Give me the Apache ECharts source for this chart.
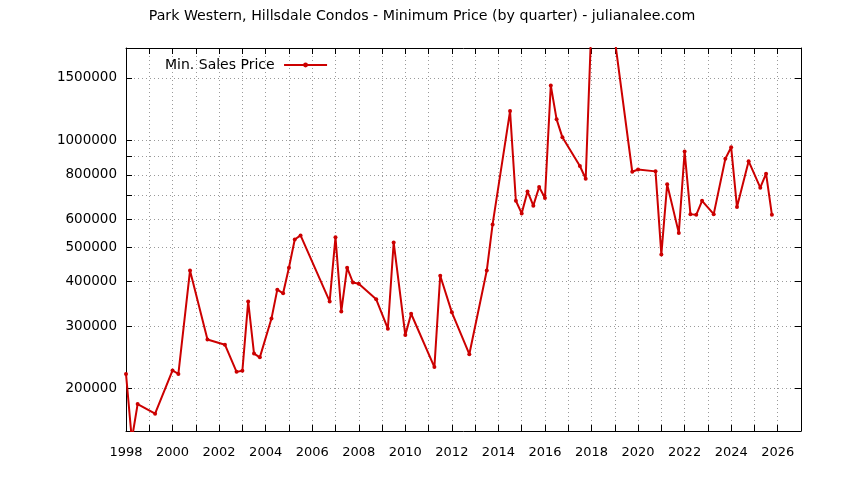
<!DOCTYPE html>
<html>
<head>
<meta charset="utf-8">
<script src="https://cdn.jsdelivr.net/npm/echarts@6/dist/echarts.min.js"></script>
<style>
html,body{margin:0;padding:0;background:#fff;}
#c{width:844px;height:480px;}
</style>
</head>
<body>
<div id="c"></div>
<script>
// Quarter positions (decimal year)
const years = [1998.0, 1998.25, 1998.5, 1999.25, 2000.0, 2000.25, 2000.75, 2001.5, 2002.25, 2002.75,
  2003.0, 2003.25, 2003.5, 2003.75, 2004.25, 2004.5, 2004.75, 2005.0, 2005.25, 2005.5,
  2006.75, 2007.0, 2007.25, 2007.5, 2007.75, 2008.0, 2008.75, 2009.25, 2009.5, 2010.0,
  2010.25, 2011.25, 2011.5, 2012.0, 2012.75, 2013.5, 2013.75, 2014.5, 2014.75, 2015.0,
  2015.25, 2015.5, 2015.75, 2016.0, 2016.25, 2016.5, 2016.75, 2017.5, 2017.75, 2018.0,
  2019.0, 2019.75, 2020.0, 2020.75, 2021.0, 2021.25, 2021.75, 2022.0, 2022.25, 2022.5,
  2022.75, 2023.25, 2023.75, 2024.0, 2024.25, 2024.75, 2025.25, 2025.5, 2025.75];
// Minimum sales price per quarter
const minPrice = [220000, 144000, 181000, 170000, 225000, 220000, 430000, 275000, 266000, 223000,
  224500, 352000, 251000, 245000, 315000, 380000, 371000, 438000, 526000, 540000,
  352000, 534000, 330000, 438000, 398000, 395000, 357000, 295000, 516000, 283000,
  325000, 230000, 416000, 328000, 250000, 430000, 580000, 1209000, 676000, 623000,
  718000, 655000, 739000, 688000, 1428000, 1146000, 1020000, 847000, 780000, 2170000,
  1925000, 816000, 828000, 818000, 477000, 752000, 549000, 930000, 620000, 617000,
  676000, 620000, 888000, 956000, 649000, 874000, 736000, 806000, 617000];
// Y tick values (log axis)
const yLabelTicks = [200000, 300000, 400000, 500000, 600000, 800000, 1000000, 1500000];
const yAllTicks = [200000, 300000, 400000, 500000, 600000, 700000, 800000, 900000, 1000000, 1500000];
const seriesName = 'Min. Sales Price';
const titleText = 'Park Western, Hillsdale Condos - Minimum Price (by quarter) - julianalee.com';

const FONT = 'DejaVu Sans';
const yMin = 152000, yMax = 1820000;
const gridLine = {show: true, lineStyle: {color: '#9a9a9a', type: [1, 3], width: 1}};

const chart = echarts.init(document.getElementById('c'), null, {renderer: 'canvas'});
chart.setOption({
  animation: false,
  backgroundColor: '#ffffff',
  title: {
    text: titleText, left: 'center', top: 4,
    textStyle: {fontFamily: FONT, fontSize: 14.2, fontWeight: 'normal', color: '#000'}
  },
  legend: {
    data: [seriesName], left: 160, top: 53, align: 'right',
    itemWidth: 43, itemHeight: 6, itemGap: 10,
    formatter: name => name + ' ',
    lineStyle: {width: 2},
    textStyle: {fontFamily: FONT, fontSize: 14, color: '#000'}
  },
  grid: {left: 126, right: 43, top: 48, bottom: 49, containLabel: false},
  xAxis: [{
    type: 'value', min: 1998, max: 2027, interval: 1,
    axisLine: {show: true, onZero: false, lineStyle: {color: '#000', width: 1}},
    axisTick: {show: true, inside: true, length: 6, lineStyle: {color: '#000'}},
    axisLabel: {
      fontFamily: FONT, fontSize: 13, color: '#000', margin: 15,
      formatter: v => (Math.round(v) % 2 === 0 ? String(Math.round(v)) : '')
    },
    splitLine: gridLine
  }, {
    type: 'value', min: 1998, max: 2027, interval: 1, position: 'top',
    axisLine: {show: true, onZero: false, lineStyle: {color: '#000', width: 1}},
    axisTick: {show: true, inside: true, length: 6, lineStyle: {color: '#000'}},
    axisLabel: {show: false}, splitLine: {show: false}
  }],
  yAxis: [{
    type: 'log', min: yMin, max: yMax,
    axisLine: {show: true, lineStyle: {color: '#000', width: 1}},
    axisTick: {show: true, inside: true, length: 6, lineStyle: {color: '#000'}, customValues: yAllTicks},
    axisLabel: {fontFamily: FONT, fontSize: 13.5, color: '#000', margin: 9, customValues: yLabelTicks,
      formatter: v => String(Math.round(v))},
    splitLine: gridLine
  }, {
    type: 'log', min: yMin, max: yMax, position: 'right',
    axisLine: {show: true, lineStyle: {color: '#000', width: 1}},
    axisTick: {show: true, inside: true, length: 6, lineStyle: {color: '#000'}, customValues: yAllTicks},
    axisLabel: {show: false, customValues: yLabelTicks}, splitLine: {show: false}
  }],
  series: [{
    name: seriesName, type: 'line', xAxisIndex: 0, yAxisIndex: 0,
    data: years.map((y, i) => [y, minPrice[i]]),
    clip: true,
    symbol: 'circle', symbolSize: 4, showSymbol: true,
    lineStyle: {color: '#cc0000', width: 2},
    itemStyle: {color: '#cc0000'}
  }]
});
</script>
</body>
</html>
